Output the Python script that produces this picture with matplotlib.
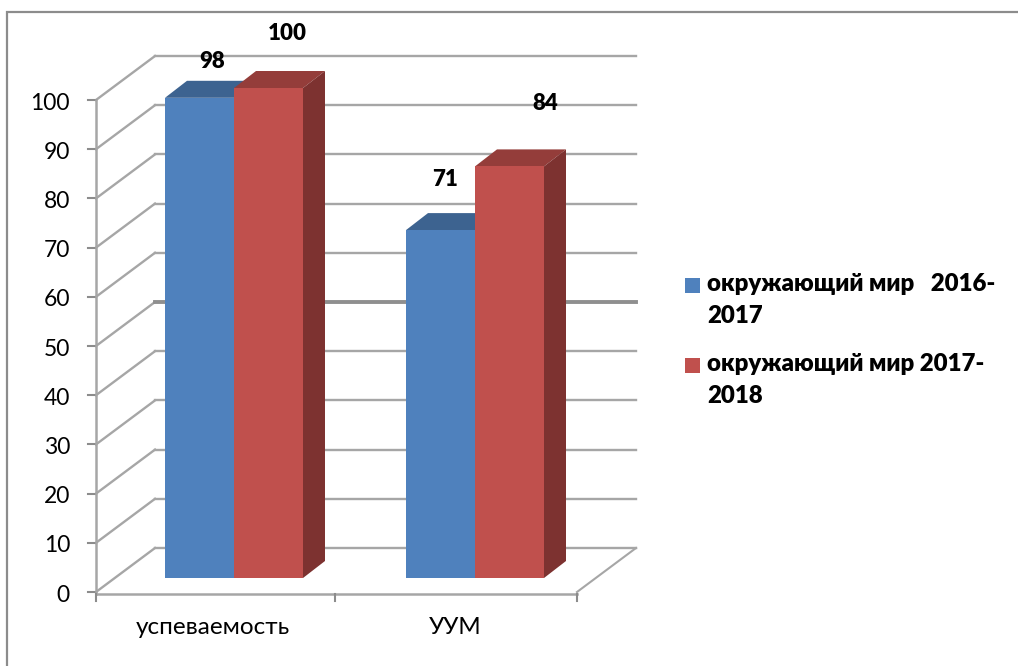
import matplotlib
matplotlib.use("Agg")
import matplotlib.pyplot as plt
from matplotlib.patches import Polygon, Rectangle

CATEGORIES = ["успеваемость", "УУМ"]
SERIES_NAMES = ["окружающий мир   2016-\n2017", "окружающий мир 2017-\n2018"]
VALUES_2016 = [98, 71]
VALUES_2017 = [100, 84]
Y_TICKS = [0, 10, 20, 30, 40, 50, 60, 70, 80, 90, 100]

FRONT = ("#4f81bd", "#c0504d")
TOP = ("#3d6390", "#943d3a")
SIDE = ("#345578", "#7d3230")
GRID = "#a6a6a6"

W, H = 1018, 666
# axis box in pixels: front wall and the offset of the back wall
X0, X1, Y0, Y100 = 96, 577, 592, 100
DX, DY = 59, -44
BAR_BASE = 578
BAR_SCALE = 4.9
BAR_W = 69
BAR_DEPTH = (22, -17)
GROUP_X = [165, 406]

plt.rcParams["font.family"] = ["Lato", "Open Sans", "DejaVu Sans"]

fig = plt.figure(figsize=(W / 100, H / 100), dpi=100)
ax = fig.add_axes([0, 0, 1, 1])
ax.set_xlim(0, W)
ax.set_ylim(H, 0)
ax.axis("off")


def y_of(value):
    return Y0 + (Y100 - Y0) * value / 100


# outer frame only shows on the top and left, the rest is cropped away
ax.plot([7, 7, W], [H, 11.5, 11.5], color="#8c8c8c", lw=1.6, solid_joinstyle="miter")

# gridlines on the back wall and the side wall
for tick in Y_TICKS:
    y = y_of(tick)
    ax.plot([X0, X0 + DX], [y, y + DY], color=GRID, lw=1.7, zorder=1)
    ax.plot([X0 + DX, X1 + DX], [y + DY, y + DY], color="#8f8f8f" if tick == 50 else GRID,
            lw=2.8 if tick == 50 else 1.7, zorder=1)
    ax.plot([X0 - 8, X0], [y, y], color="#8c8c8c", lw=1.5, zorder=1)
    ax.text(70, y + 3, str(tick), ha="right", va="center", fontsize=16.5, color="black")

# axes lines, floor edge and category ticks
ax.plot([X0, X0], [Y100, Y0 + 2], color=GRID, lw=1.8, zorder=1)
ax.plot([X0, X1], [Y0 + 2, Y0 + 2], color=GRID, lw=1.8, zorder=1)
ax.plot([X1, X1 + DX], [Y0, Y0 + DY], color=GRID, lw=1.5, zorder=1)
for tick_x in (X0, (X0 + X1) / 2 - 1, X1):
    ax.plot([tick_x, tick_x], [Y0 + 2, Y0 + 9], color="#8c8c8c", lw=1.5, zorder=1)

# 3D bars
for s, values in enumerate((VALUES_2016, VALUES_2017)):
    for g, value in enumerate(values):
        left = GROUP_X[g] + s * BAR_W
        right = left + BAR_W
        top = BAR_BASE - BAR_SCALE * value
        ddx, ddy = BAR_DEPTH
        ax.add_patch(Polygon([(left, top), (left + ddx, top + ddy), (right + ddx, top + ddy), (right, top)],
                             fc=TOP[s], ec="none", zorder=3 + s))
        ax.add_patch(Polygon([(right, top), (right + ddx, top + ddy), (right + ddx, BAR_BASE + ddy), (right, BAR_BASE)],
                             fc=SIDE[s], ec="none", zorder=3 + s))
        ax.add_patch(Rectangle((left, top), BAR_W, BAR_BASE - top, fc=FRONT[s], ec="none", zorder=3 + s))

# data labels sit above the bars, placed by hand like the original
LABEL_POS = [[(212, 62), (287, 33)], [(445, 180), (545, 103)]]
for s, values in enumerate((VALUES_2016, VALUES_2017)):
    for g, value in enumerate(values):
        x, y = LABEL_POS[g][s]
        ax.text(x, y, str(value), ha="center", va="center", fontsize=16, fontweight="heavy", color="black", zorder=6)

# category labels
for g, name in enumerate(CATEGORIES):
    ax.text((213, 455)[g], 627, name, ha="center", va="center", fontsize=17.5, color="black")

# legend
for s, name in enumerate(SERIES_NAMES):
    y = (285, 365)[s]
    ax.add_patch(Rectangle((685, y - 7), 15, 15, fc=FRONT[s], ec="none"))
    ax.text(707, y - 12, name, ha="left", va="top", fontsize=17.3, fontweight="heavy", color="black", linespacing=1.55)

fig.savefig("out.png", dpi=100)
